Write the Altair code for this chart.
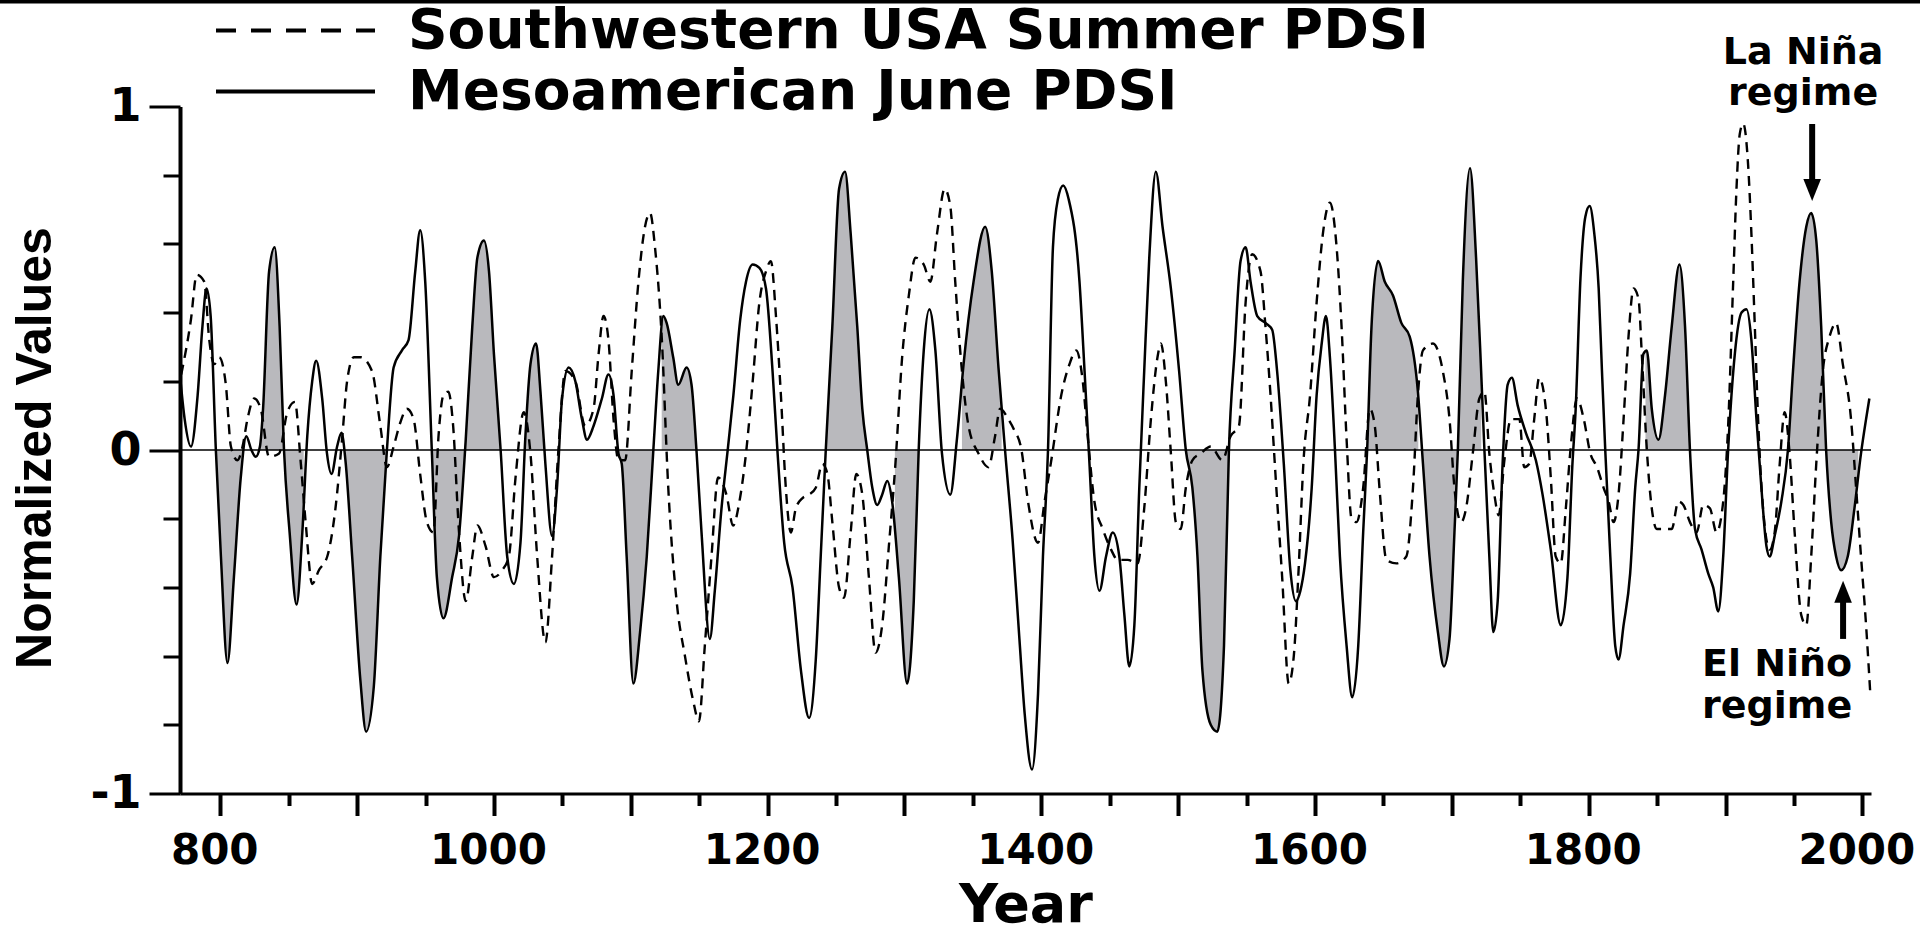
import altair as alt
import pandas as pd

# ---------------- data ----------------
meso_year = [771, 774, 778.6, 783.5, 787, 790, 793, 796.8, 800.5, 805.3, 810, 815, 819, 822.8, 826, 829,
             831.3, 835.7, 839.8, 843.4, 846.6, 850.7, 855.8, 860, 863.6, 867.2, 870.1, 874.5, 878, 881.3,
             885.4, 888.6, 891.5, 896.4, 902.4, 906.6, 912.2, 917, 921.8, 926.7, 932.8, 937.6, 942.5, 946.1,
             949.8, 954.6, 958.3, 963.1, 969.5, 974.5, 979.4, 984.2, 987.9, 992.7, 996.4, 1000, 1004.9,
             1009.7, 1014.6, 1019.4, 1023, 1026.7, 1030.8, 1034, 1037.6, 1042.5, 1046.1, 1049.8, 1054.6,
             1059.5, 1064.3, 1068, 1072.8, 1078.9, 1083.7, 1087.4, 1091, 1093.4, 1097, 1101.9, 1106.8,
             1111.7, 1116.5, 1120.1, 1123.8, 1126.2, 1131, 1134.7, 1140.8, 1144.4, 1148, 1151.7, 1157.8,
             1161.4, 1166.3, 1171.1, 1175, 1180, 1184.2, 1189.1, 1194, 1198.8, 1203.6, 1207.3, 1212.1,
             1218.2, 1224.3, 1230.3, 1235.2, 1238.8, 1242.5, 1247.3, 1252.2, 1256.6, 1260.7, 1265.5,
             1269.2, 1272.8, 1276.5, 1280.1, 1283.7, 1287.4, 1291, 1295.9, 1301.9, 1306.8, 1310.4, 1314.1,
             1318.2, 1322.6, 1327.4, 1333.5, 1338.3, 1343.2, 1350.5, 1359, 1363.8, 1368.7, 1373.5, 1379,
             1384, 1387.9, 1393.2, 1397.6, 1401.2, 1404.9, 1408.5, 1412.1, 1416, 1420, 1427.9, 1431.6,
             1435.2, 1438.8, 1442.5, 1447.3, 1452.2, 1457, 1460.7, 1464.3, 1468, 1471.6, 1475.2, 1478.9,
             1483.7, 1488.6, 1494.7, 1500.7, 1505.6, 1510.4, 1514.1, 1517.7, 1523.8, 1528.6, 1533.5,
             1537.1, 1541.3, 1545.6, 1549.3, 1552.9, 1557.8, 1563.8, 1568.7, 1572.3, 1577.2, 1582, 1586,
             1589.3, 1592.7, 1597.6, 1601.2, 1604.9, 1608, 1610.9, 1614.6, 1618.2, 1623.1, 1627.2, 1631.6,
             1635.2, 1638.1, 1641.3, 1646.1, 1651, 1657, 1663.1, 1669.2, 1675.2, 1678.9, 1683.7, 1689.8,
             1694.2, 1698.3, 1701.9, 1704.4, 1708, 1713.3, 1717.7, 1721.4, 1723.8, 1727.4, 1730.3, 1733.5,
             1737.1, 1740.8, 1743.9, 1748.1, 1754.1, 1761.4, 1766.3, 1772.3, 1779.6, 1784.5, 1788, 1790.5,
             1794, 1797.6, 1800.7, 1804.1, 1807.3, 1809.7, 1812.1, 1815.8, 1819.4, 1821.8, 1825.5, 1830.3,
             1834, 1836.4, 1840, 1842.5, 1846.1, 1851, 1855.8, 1860.7, 1866.3, 1870.4, 1874, 1877.7,
             1882.5, 1887.4, 1891, 1894.7, 1898.3, 1901.9, 1906.8, 1911.7, 1915.3, 1918.9, 1922.6, 1926.2,
             1929.9, 1932.3, 1935.9, 1940.8, 1945.6, 1949.3, 1954.1, 1959, 1962.6, 1966.3, 1969.9, 1973.5,
             1977.2, 1980.8, 1984.5, 1989.3, 1994.2, 1999, 2002.7, 2005.1]
meso_val = [0.20, 0.09, 0.01, 0.16, 0.36, 0.47, 0.39, 0.0, -0.31, -0.62, -0.37, -0.08, 0.04, 0.0, -0.02, 0.01,
            0.12, 0.52, 0.59, 0.36, 0.0, -0.24, -0.45, -0.24, 0.04, 0.20, 0.26, 0.15, -0.01, -0.07,
            0.01, 0.05, -0.03, -0.31, -0.67, -0.82, -0.69, -0.31, 0.0, 0.24, 0.29, 0.32, 0.52, 0.64,
            0.49, 0.0, -0.37, -0.49, -0.37, -0.25, 0.03, 0.36, 0.56, 0.61, 0.52, 0.28, 0.0,
            -0.31, -0.39, -0.27, 0.04, 0.25, 0.31, 0.17, -0.04, -0.25, -0.11, 0.15, 0.24,
            0.20, 0.09, 0.03, 0.07, 0.15, 0.22, 0.16, -0.01, -0.04, -0.31, -0.68, -0.53,
            -0.31, 0.0, 0.23, 0.39, 0.37, 0.27, 0.19, 0.24, 0.19, 0.0, -0.24, -0.55,
            -0.41, -0.17, 0.01, 0.16, 0.38, 0.49, 0.54, 0.53, 0.47, 0.23, -0.01, -0.27,
            -0.40, -0.64, -0.78, -0.61, -0.31, 0.0, 0.36, 0.76, 0.81, 0.63, 0.36,
            0.12, 0.0, -0.11, -0.16, -0.13, -0.09, -0.15, -0.37, -0.68, -0.44, 0.0, 0.29,
            0.41, 0.29, -0.01, -0.13, 0.03, 0.25, 0.49, 0.65, 0.52, 0.24, 0.0, -0.26,
            -0.55, -0.77, -0.93, -0.71, -0.31, 0.0, 0.59, 0.73, 0.77, 0.73, 0.49, 0.23,
            -0.04, -0.31, -0.41, -0.31, -0.24, -0.31, -0.48, -0.63, -0.51, -0.11, 0.23, 0.56,
            0.81, 0.65, 0.47, 0.23, 0.0, -0.11, -0.31, -0.64, -0.80, -0.82, -0.57,
            0.0, 0.29, 0.55, 0.59, 0.49, 0.39, 0.37, 0.35, 0.23, -0.04, -0.35, -0.44,
            -0.41, -0.33, -0.11, 0.16, 0.31, 0.39, 0.27, 0.0, -0.31, -0.57, -0.72, -0.57,
            -0.24, 0.0, 0.36, 0.55, 0.49, 0.45, 0.37, 0.33, 0.17, -0.04, -0.31, -0.53,
            -0.63, -0.55, -0.24, 0.0, 0.49, 0.82, 0.56, 0.23, 0.0, -0.31, -0.53, -0.44,
            -0.04, 0.19, 0.21, 0.13, 0.05, -0.03, -0.13, -0.29, -0.51, -0.37, -0.05, 0.12,
            0.50, 0.68, 0.71, 0.63, 0.47, 0.23, 0.0, -0.31, -0.57, -0.61, -0.51, -0.36,
            -0.11, 0.0, 0.28, 0.29, 0.12, 0.03, 0.16, 0.36, 0.54, 0.36, 0.0, -0.23,
            -0.29, -0.36, -0.40, -0.47, -0.31, 0.0, 0.28, 0.40, 0.41, 0.32, 0.09, -0.11,
            -0.28, -0.31, -0.25, -0.15, 0.0, 0.23, 0.49, 0.65, 0.69, 0.61, 0.36, 0.0,
            -0.21, -0.31, -0.35, -0.31, -0.17, -0.01, 0.09, 0.15]

sw_year = [771.5, 778.6, 782.8, 788.3, 792, 795.6, 799.3, 804.1, 807.8, 812.6, 816.3, 819.9, 824.8, 829.6,
           835.7, 843, 849, 854.6, 858.7, 862.4, 867.2, 872.1, 878.2, 884.2, 889, 892.7, 897.6, 902.4,
           910.9, 917, 921.8, 926.7, 931.6, 936.4, 941.3, 946.1, 951, 955.8, 959.5, 963.1, 966.7, 970,
           974.5, 979.4, 984.2, 987.9, 993.9, 1000, 1006, 1010.9, 1015.8, 1021.8, 1026.7, 1031.6, 1037.6,
           1042.5, 1047.3, 1052.2, 1059.5, 1066.7, 1072.8, 1076.5, 1080.1, 1083.7, 1087.4, 1091, 1095.9,
           1100.7, 1105.6, 1110.4, 1114.1, 1117.7, 1122.6, 1127.4, 1133.5, 1139.6, 1145.6, 1149.8, 1154.1,
           1159, 1163.8, 1169.9, 1174.8, 1179.4, 1184.2, 1189.1, 1194, 1198.8, 1202.4, 1206.1, 1209.7,
           1213.3, 1217, 1220.6, 1225.5, 1230.3, 1235.2, 1240, 1243.7, 1247.3, 1252.2, 1255.8, 1260.7,
           1264.8, 1269.2, 1274, 1278.9, 1283.7, 1288.6, 1293.4, 1298.3, 1303.2, 1308, 1314.1, 1318.9,
           1323.8, 1329.4, 1333.5, 1337.1, 1342, 1346.8, 1354.1, 1361.4, 1366.2, 1369.9, 1375.9, 1380,
           1385.5, 1390.3, 1397.6, 1402.4, 1407.3, 1414.6, 1420.6, 1425.5, 1430.3, 1433.9, 1438.8, 1444.9,
           1451, 1455.8, 1463.1, 1470.4, 1475.2, 1480.1, 1484.9, 1487.4, 1491, 1494.7, 1498.3, 1501.9,
           1505.6, 1510.4, 1516.5, 1523.8, 1532.3, 1538.3, 1544.4, 1549.3, 1554.1, 1560.2, 1563.8, 1567.5,
           1571.1, 1576, 1580.8, 1584.5, 1588, 1591.5, 1596.4, 1601.2, 1606.1, 1610.9, 1615.8, 1619.4,
           1623.1, 1626.7, 1630.3, 1635.2, 1640.1, 1643.7, 1647.3, 1652.2, 1659.5, 1666.7, 1671.6, 1675.2,
           1678.9, 1686.2, 1693.4, 1698.3, 1701.9, 1706.8, 1710.4, 1715.3, 1720.1, 1723.8, 1727.4, 1731.1,
           1734.2, 1738.4, 1743.2, 1749.3, 1752.9, 1756.6, 1760.2, 1763.8, 1768.7, 1772.3, 1775.9, 1779.6,
           1783.3, 1786.9, 1791.5, 1796.4, 1801.2, 1806.1, 1810.9, 1814.6, 1818.2, 1821.8, 1825.5, 1829.1,
           1832.8, 1836.4, 1838.8, 1842.5, 1846.1, 1849.8, 1855.8, 1860.7, 1865.5, 1869.2, 1874, 1878.9,
           1883.7, 1888.6, 1893.4, 1898.3, 1901.9, 1905.6, 1908, 1910.4, 1912.9, 1916.5, 1918.9, 1921.4,
           1923.8, 1927.4, 1932.3, 1935.9, 1939.6, 1943.2, 1946.8, 1950.5, 1955.3, 1959, 1962.6, 1966.3,
           1971.1, 1976, 1980.8, 1985.7, 1991.7, 1995.4, 1999, 2002.7, 2005.8]
sw_val = [0.22, 0.38, 0.51, 0.49, 0.32, 0.25, 0.27, 0.19, 0.01, -0.03, 0.01, 0.09, 0.15, 0.12,
          -0.02, -0.01, 0.11, 0.14, -0.03, -0.21, -0.39, -0.35, -0.31, -0.17, 0.03, 0.20, 0.27, 0.27,
          0.23, 0.07, -0.05, 0.01, 0.08, 0.12, 0.09, -0.07, -0.21, -0.24, 0.04, 0.16, 0.17, 0.08,
          -0.24, -0.44, -0.31, -0.22, -0.28, -0.37, -0.35, -0.31, -0.08, 0.11, -0.01, -0.31, -0.56,
          -0.31, 0.01, 0.23, 0.20, 0.07, 0.12, 0.28, 0.39, 0.32, 0.09, -0.03, -0.03,
          0.23, 0.49, 0.65, 0.69, 0.59, 0.33, -0.11, -0.44, -0.60, -0.73, -0.79, -0.57,
          -0.31, -0.08, -0.13, -0.22, -0.15, -0.01, 0.20, 0.43, 0.52, 0.55, 0.39, 0.16,
          -0.11, -0.24, -0.17, -0.14, -0.13, -0.11, -0.04, -0.07, -0.21, -0.40, -0.43, -0.24,
          -0.07, -0.13, -0.37, -0.59, -0.51, -0.28, -0.04, 0.27, 0.45, 0.56, 0.54, 0.49,
          0.63, 0.76, 0.71, 0.49, 0.23, 0.07, -0.01, -0.05, 0.04, 0.12, 0.09, 0.06,
          0.0, -0.15, -0.27, -0.15, -0.03, 0.16, 0.25, 0.29, 0.20, 0.04, -0.15, -0.23,
          -0.29, -0.32, -0.32, -0.33, -0.17, 0.09, 0.27, 0.31, 0.20, -0.01, -0.21, -0.23,
          -0.11, -0.03, -0.01, 0.01, -0.03, 0.04, 0.07, 0.43, 0.57, 0.52, 0.36, 0.16,
          -0.07, -0.37, -0.68, -0.60, -0.35, -0.04, 0.16, 0.43, 0.64, 0.72, 0.59, 0.36,
          0.03, -0.20, -0.21, -0.11, 0.12, 0.07, -0.12, -0.32, -0.33, -0.31, -0.11, 0.16,
          0.29, 0.31, 0.23, 0.09, -0.11, -0.21, -0.17, -0.01, 0.15, 0.17, -0.01, -0.13,
          -0.19, -0.03, 0.09, 0.09, -0.05, -0.04, 0.09, 0.21, 0.12, -0.08, -0.31, -0.33,
          -0.17, 0.01, 0.15, 0.09, -0.01, -0.05, -0.11, -0.15, -0.21, -0.13, 0.09, 0.33,
          0.47, 0.44, 0.28, 0.0, -0.17, -0.23, -0.23, -0.23, -0.15, -0.16, -0.21, -0.24,
          -0.16, -0.17, -0.24, -0.15, 0.07, 0.49, 0.76, 0.92, 0.95, 0.83, 0.63, 0.36,
          0.09, -0.17, -0.29, -0.24, -0.04, 0.11, -0.01, -0.24, -0.48, -0.51, -0.31, -0.04,
          0.23, 0.33, 0.37, 0.25, 0.09, -0.11, -0.31, -0.51, -0.71]

# shaded (anti-phase) periods
shade_start = [797, 829, 846.6, 891.5, 955.5, 1023, 1091, 1122.6, 1242.5, 1293, 1342, 1506, 1638.5,
               1679, 1704.4, 1841.5, 1945.6]
shade_end = [817, 846.6, 861, 921.8, 1005, 1037.6, 1116.5, 1148, 1272.8, 1310.4, 1371, 1538, 1675.5,
             1704.4, 1721.5, 1874, 1997]

series_names = ["Southwestern USA Summer PDSI", "Mesoamerican June PDSI"]

note_year = [1956.7, 1956.7, 1937.7, 1937.7]
note_val = [1.124, 1.004, -0.658, -0.78]
note_text = ["La Niña", "regime", "El Niño", "regime"]

arrow_year = [1963.3, 1985.9]
arrow_from = [0.949, -0.55]
arrow_to = [0.78, -0.44]
head_val = [0.757, -0.413]
head_dir = ["down", "up"]

X0, X1 = 770.6, 2006.3

# ---------------- tables ----------------
meso = pd.DataFrame({"year": meso_year, "v": meso_val})
sw = pd.DataFrame({"year": sw_year, "v": sw_val})
edges = [X0] + [e for pair in zip(shade_start, shade_end) for e in pair] + [X1]
mask = pd.DataFrame({"a": edges[0::2], "b": edges[1::2]})
leg = pd.DataFrame({"series": series_names, "year": [1000, 1000], "v": [0, 0]})
notes = pd.DataFrame({"year": note_year, "v": note_val, "t": note_text})
shafts = pd.DataFrame({"year": arrow_year, "v1": arrow_from, "v2": arrow_to})
heads = pd.DataFrame({"year": arrow_year, "v": head_val, "dir": head_dir})
zero = pd.DataFrame({"z": [0]})

BOLD = "DejaVu Sans"

xs = alt.Scale(domain=[X0, X1], nice=False, zero=False)
ys = alt.Scale(domain=[-1, 1], nice=False)

xaxis = alt.Axis(
    values=list(range(800, 2001, 50)), format="d",
    labelExpr="datum.value % 200 === 0 ? datum.label : ''",
    tickSize={"condition": {"test": "datum.value % 100 === 0", "value": 22}, "value": 12},
    tickWidth=4, tickColor="black", domainColor="black", domainWidth=3,
    labelFont=BOLD, labelFontWeight="bold", labelFontSize=42, labelColor="black",
    labelPadding=15, labelOffset=-6, labelFlush=False, labelOverlap=False, grid=False,
    title="Year", titleFont=BOLD, titleFontWeight="bold", titleFontSize=54, titleColor="black",
    titleY=128, titleBaseline="alphabetic", zindex=1)

yaxis = alt.Axis(
    values=[-1, -0.8, -0.6, -0.4, -0.2, 0, 0.2, 0.4, 0.6, 0.8, 1],
    labelExpr="datum.value === 1 ? '1' : datum.value === 0 ? '0' : datum.value === -1 ? '-1' : ''",
    tickSize={"condition": {"test": "datum.value === 1 || datum.value === 0 || datum.value === -1",
                            "value": 31}, "value": 17},
    tickWidth=3, tickColor="black", domainColor="black", domainWidth=4,
    labelFont=BOLD, labelFontWeight="bold", labelFontSize=46, labelColor="black",
    labelPadding=8, labelFlush=False, labelOverlap=False, grid=False,
    title="Normalized Values", titleFont="Liberation Sans", titleFontWeight="bold",
    titleFontSize=50, titleColor="black", titleAngle=270, titleX=-145, titleY=341,
    titleAlign="center", titleBaseline="middle", zindex=1)

X = alt.X("year:Q", scale=xs, axis=xaxis)
Y = alt.Y("v:Q", scale=ys, axis=yaxis)

area = alt.Chart(meso).mark_area(interpolate="monotone", color="#b9b9bd").encode(
    x=X, y=Y, y2=alt.datum(0))

masks = alt.Chart(mask).mark_rect(color="white").encode(
    x=alt.X("a:Q", scale=xs), x2="b:Q", y=alt.datum(1), y2=alt.datum(-1))

zero_line = alt.Chart(zero).mark_rule(color="black", strokeWidth=1.6).encode(
    y=alt.Y("z:Q", scale=ys))

sw_line = alt.Chart(sw).mark_line(interpolate="monotone", color="black", strokeWidth=2.4,
                                  strokeDash=[10, 7]).encode(x=X, y=Y)
meso_line = alt.Chart(meso).mark_line(interpolate="monotone", color="black",
                                      strokeWidth=2.5).encode(x=X, y=Y)

legend_layer = alt.Chart(leg).mark_line(color="black").encode(
    x=alt.X("year:Q", scale=xs), y=alt.Y("v:Q", scale=ys),
    strokeDash=alt.StrokeDash(
        "series:N",
        scale=alt.Scale(domain=series_names, range=[[20, 15], [1, 0]]),
        legend=alt.Legend(title=None, orient="none", legendX=34, legendY=-105,
                          symbolType="stroke", symbolSize=25281, symbolStrokeWidth=4,
                          symbolStrokeColor="black", labelFont=BOLD, labelFontWeight="bold",
                          labelFontSize=55, labelColor="black", labelOffset=31, labelLimit=0,
                          clipHeight=58, rowPadding=3)))

note_layer = alt.Chart(notes).mark_text(font=BOLD, fontWeight="bold", fontSize=38, color="black",
                                        align="center", baseline="alphabetic").encode(
    x=alt.X("year:Q", scale=xs), y=alt.Y("v:Q", scale=ys), text="t:N")

shaft_layer = alt.Chart(shafts).mark_rule(color="black", strokeWidth=6).encode(
    x=alt.X("year:Q", scale=xs), y=alt.Y("v1:Q", scale=ys), y2="v2:Q")

head_layer = alt.Chart(heads).mark_point(filled=True, color="black", opacity=1, size=484).encode(
    x=alt.X("year:Q", scale=xs), y=alt.Y("v:Q", scale=ys),
    shape=alt.Shape("dir:N", scale=alt.Scale(domain=["down", "up"],
                                             range=["M-0.8,-1L0.8,-1L0,1Z", "M-0.8,1L0.8,1L0,-1Z"]),
                    legend=None))

# thin black border strip along the very top of the figure
top_strip = alt.Chart(zero).mark_rule(color="black", strokeWidth=4).encode(
    x=alt.value(-180), x2=alt.value(1740), y=alt.value(-105))

chart = alt.layer(area, masks, zero_line, sw_line, meso_line, legend_layer,
                  shaft_layer, head_layer, note_layer, top_strip).properties(
    width=1691, height=687,
    autosize=alt.AutoSizeParams(type="none"),
    padding={"left": 180, "top": 106.5, "right": 49, "bottom": 136.5},
    background="white",
).configure_view(stroke=None)

chart.save("out.html", embed_options={"renderer": "svg", "actions": False})
